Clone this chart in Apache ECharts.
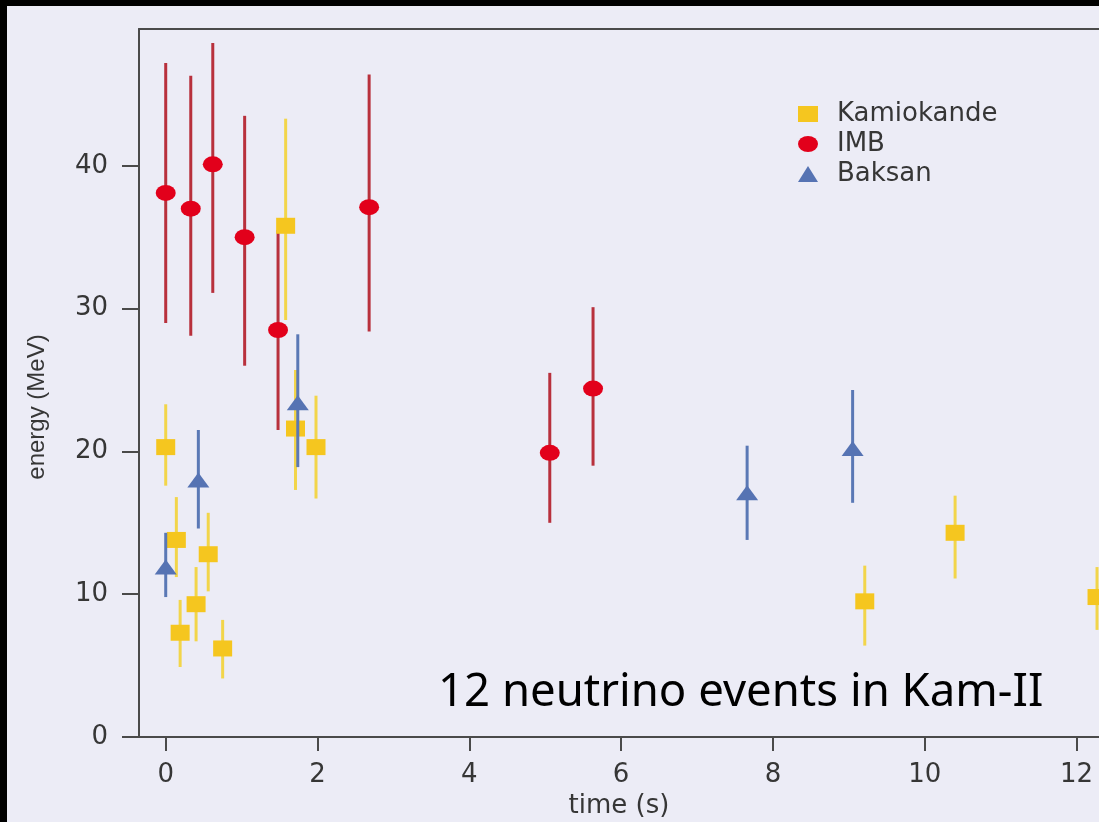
<!DOCTYPE html>
<html>
<head>
<meta charset="utf-8">
<style>
  html, body { margin: 0; padding: 0; background: #ececf6; }
  #chart { width: 1099px; height: 822px; }
</style>
<script src="https://cdn.jsdelivr.net/npm/echarts@6/dist/echarts.min.js"></script>
</head>
<body>
<div id="chart"></div>
<script>
// ---- Data ----
// Kamiokande-II events: time (s), energy (MeV), error bar low/high
const kamTime = [0, 0.14, 0.19, 0.40, 0.56, 0.75, 1.58, 1.71, 1.98, 9.21, 10.40, 12.27];
const kamEnergy = [20.3, 13.8, 7.3, 9.3, 12.8, 6.2, 35.8, 21.6, 20.3, 9.5, 14.3, 9.8];
const kamLow = [17.6, 11.2, 4.9, 6.7, 10.2, 4.1, 29.2, 17.3, 16.7, 6.4, 11.1, 7.5];
const kamHigh = [23.3, 16.8, 9.6, 11.9, 15.7, 8.2, 43.3, 25.7, 23.9, 12.0, 16.9, 11.9];

// IMB events
const imbTime = [0, 0.33, 0.62, 1.04, 1.48, 2.68, 5.06, 5.63];
const imbEnergy = [38.1, 37.0, 40.1, 35.0, 28.5, 37.1, 19.9, 24.4];
const imbLow = [29.0, 28.1, 31.1, 26.0, 21.5, 28.4, 15.0, 19.0];
const imbHigh = [47.2, 46.3, 48.6, 43.5, 35.5, 46.4, 25.5, 30.1];

// Baksan events
const bakTime = [0, 0.43, 1.74, 7.66, 9.05];
const bakEnergy = [11.9, 18.0, 23.4, 17.1, 20.2];
const bakLow = [9.8, 14.6, 18.9, 13.8, 16.4];
const bakHigh = [14.3, 21.5, 28.2, 20.4, 24.3];

// Tick labels
const xTicks = [0, 2, 4, 6, 8, 10, 12];
const yTicks = [0, 10, 20, 30, 40];

const seriesNames = ['Kamiokande', 'IMB', 'Baksan'];
const annotation = '12 neutrino events in Kam-II';
const xName = 'time (s)';
const yName = 'energy (MeV)';

// ---- Build ----
function points(t, e) { return t.map((v, i) => [v, e[i]]); }
function bars(t, lo, hi) { return t.map((v, i) => [v, lo[i], hi[i]]); }
function errRender(color, width) {
  return function (params, api) {
    const x = api.value(0), lo = api.value(1), hi = api.value(2);
    const p1 = api.coord([x, lo]);
    const p2 = api.coord([x, hi]);
    return {
      type: 'line',
      shape: { x1: p1[0], y1: p1[1], x2: p2[0], y2: p2[1] },
      style: { stroke: color, lineWidth: width }
    };
  };
}

const COL_KAM = '#f5c61f', COL_KAM_BAR = '#f2d54a';
const COL_IMB = '#e2001b', COL_IMB_BAR = '#b8303c';
const COL_BAK = '#5673b3', COL_BAK_BAR = '#5a78b5';
const AXIS = '#4a4a4a';
const TXT = '#363636';
const ELLIPSE = 'path://M0 10 A10 10 0 1 0 20 10 A10 10 0 1 0 0 10 Z';

const chart = echarts.init(document.getElementById('chart'), null, { renderer: 'canvas' });

const option = {
  backgroundColor: '#ececf6',
  animation: false,
  grid: { left: 139, right: 0, top: 29, bottom: 85, containLabel: false, outerBoundsMode: 'none' },
  legend: {
    data: [
      { name: seriesNames[0], icon: 'rect' },
      { name: seriesNames[1], icon: ELLIPSE },
      { name: seriesNames[2], icon: 'triangle' }
    ],
    orient: 'vertical',
    left: 793,
    top: 96,
    itemWidth: 20,
    itemHeight: 16,
    itemGap: 4,
    symbolKeepAspect: false,
    textStyle: { fontFamily: 'DejaVu Sans', fontSize: 26, color: TXT, lineHeight: 26, padding: [0, 0, 0, 14] }
  },
  xAxis: [{
    type: 'value',
    min: -0.352,
    max: 12.296,
    name: xName,
    nameLocation: 'middle',
    nameGap: 52,
    nameTextStyle: { fontFamily: 'DejaVu Sans', fontSize: 26, color: TXT },
    axisLine: { show: true, onZero: false, lineStyle: { color: AXIS, width: 2 } },
    axisTick: { show: true, length: 14, customValues: xTicks, lineStyle: { color: AXIS, width: 2 } },
    axisLabel: { customValues: xTicks, margin: 25, fontFamily: 'DejaVu Sans', fontSize: 26, color: TXT },
    splitLine: { show: false }
  }, {
    type: 'value',
    position: 'top',
    min: -0.352,
    max: 12.296,
    axisLine: { show: true, onZero: false, lineStyle: { color: AXIS, width: 2 } },
    axisTick: { show: false },
    axisLabel: { show: false },
    splitLine: { show: false }
  }],
  yAxis: {
    type: 'value',
    min: 0,
    max: 49.58,
    name: yName,
    nameLocation: 'middle',
    nameGap: 90,
    nameTextStyle: { fontFamily: 'Liberation Sans', fontSize: 24, color: TXT, padding: [0, 48, 0, 0] },
    axisLine: { show: true, onZero: false, lineStyle: { color: AXIS, width: 2 } },
    axisTick: { show: true, length: 17, customValues: yTicks, lineStyle: { color: AXIS, width: 2 } },
    axisLabel: { customValues: yTicks, margin: 31, fontFamily: 'DejaVu Sans', fontSize: 26, color: TXT },
    splitLine: { show: false }
  },
  series: [
    {
      name: 'IMB err', type: 'custom', xAxisIndex: 0, z: 2,
      renderItem: errRender(COL_IMB_BAR, 3),
      encode: { x: 0, y: [1, 2] },
      data: bars(imbTime, imbLow, imbHigh)
    },
    {
      name: 'IMB', type: 'scatter', xAxisIndex: 0, z: 3,
      symbol: 'circle', symbolSize: [20, 16],
      itemStyle: { color: COL_IMB, opacity: 1 },
      data: points(imbTime, imbEnergy)
    },
    {
      name: 'Kamiokande err', type: 'custom', xAxisIndex: 0, z: 4,
      renderItem: errRender(COL_KAM_BAR, 3),
      encode: { x: 0, y: [1, 2] },
      data: bars(kamTime, kamLow, kamHigh)
    },
    {
      name: 'Kamiokande', type: 'scatter', xAxisIndex: 0, z: 5,
      symbol: 'rect', symbolSize: [19, 16],
      itemStyle: { color: COL_KAM, opacity: 1 },
      data: points(kamTime, kamEnergy)
    },
    {
      name: 'Baksan err', type: 'custom', xAxisIndex: 0, z: 6,
      renderItem: errRender(COL_BAK_BAR, 3),
      encode: { x: 0, y: [1, 2] },
      data: bars(bakTime, bakLow, bakHigh)
    },
    {
      name: 'Baksan', type: 'scatter', xAxisIndex: 0, z: 7,
      symbol: 'triangle', symbolSize: [22, 15],
      itemStyle: { color: COL_BAK, opacity: 1 },
      data: points(bakTime, bakEnergy)
    }
  ],
  graphic: [
    { type: 'rect', left: 0, top: 0, shape: { width: 1099, height: 6 }, style: { fill: '#000' }, z: 100 },
    { type: 'rect', left: 0, top: 0, shape: { width: 7, height: 822 }, style: { fill: '#000' }, z: 100 },
    {
      type: 'text', x: 438, y: 693, z: 50,
      style: { text: annotation, fontFamily: 'Noto Sans', fontSize: 45.5, fill: '#000', textAlign: 'left', textVerticalAlign: 'middle' }
    }
  ]
};

chart.setOption(option);
</script>
</body>
</html>
